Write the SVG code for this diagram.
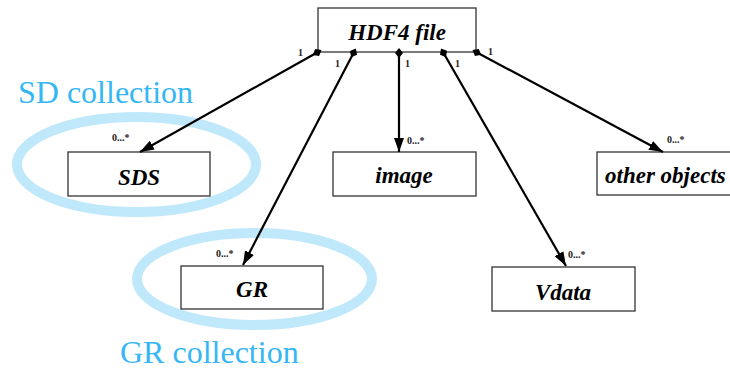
<svg xmlns="http://www.w3.org/2000/svg" width="730" height="370" viewBox="0 0 730 370">
<style>
.box{fill:#fff;stroke:#333;stroke-width:1.3}
.lbl{font-family:"Liberation Serif","Times New Roman",serif;font-weight:bold;font-style:italic;font-size:23px;fill:#000}
.mult{font-family:"Liberation Serif","Times New Roman",serif;font-weight:bold;font-size:10px;fill:#222}
.coll{font-family:"Liberation Serif","Times New Roman",serif;font-size:32px;fill:#35B6F5}
.ring{fill:none;stroke:#C0E8FB;stroke-width:10}
.conn{stroke:#000;stroke-width:2.2;fill:none;marker-start:url(#dia);marker-end:url(#arr)}
</style>
<defs>
<marker id="arr" markerUnits="userSpaceOnUse" markerWidth="15" markerHeight="12" viewBox="0 0 15 12" refX="14" refY="6" orient="auto">
<path d="M0,1 L14,6 L0,11 Z" fill="#000"/>
</marker>
<marker id="dia" markerUnits="userSpaceOnUse" markerWidth="12" markerHeight="10" viewBox="0 0 12 10" refX="4" refY="5" orient="auto">
<path d="M0,5 L5,1 L10,5 L5,9 Z" fill="#000"/>
</marker>
</defs>
<g id="collections">
<ellipse class="ring" cx="136.5" cy="164.5" rx="119.5" ry="47.5"/>
<text class="coll" x="18" y="103">SD collection</text>
<ellipse class="ring" cx="254.5" cy="279" rx="117.5" ry="46"/>
<text class="coll" x="120" y="363">GR collection</text>
</g>
<g id="hdf4file">
<rect class="box" x="318" y="8" width="158" height="44"/>
<text class="lbl" x="397" y="40" text-anchor="middle">HDF4 file</text>
</g>
<g id="sds">
<rect class="box" x="68" y="152" width="142" height="44"/>
<text class="lbl" x="139" y="185" text-anchor="middle">SDS</text>
</g>
<g id="gr">
<rect class="box" x="181" y="266" width="142" height="43"/>
<text class="lbl" x="252" y="297" text-anchor="middle">GR</text>
</g>
<g id="image">
<rect class="box" x="333" y="152" width="143" height="44"/>
<text class="lbl" x="404" y="183" text-anchor="middle">image</text>
</g>
<g id="vdata">
<rect class="box" x="492" y="267" width="143" height="44"/>
<text class="lbl" x="563" y="300" text-anchor="middle">Vdata</text>
</g>
<g id="other">
<rect class="box" x="597" y="152" width="142" height="43"/>
<text class="lbl" x="605" y="183">other objects</text>
</g>
<g id="connectors">
<path class="conn" d="M318,52 L140,152"/>
<path class="conn" d="M354,52 L243,265"/>
<path class="conn" d="M399,52 L399,152"/>
<path class="conn" d="M443,52 L566,266"/>
<path class="conn" d="M476,52 L663,152"/>
<text class="mult" x="298" y="56">1</text>
<text class="mult" x="335" y="67">1</text>
<text class="mult" x="405" y="67">1</text>
<text class="mult" x="455" y="67">1</text>
<text class="mult" x="488" y="55">1</text>
<text class="mult" x="112" y="141">0...*</text>
<text class="mult" x="216" y="257">0...*</text>
<text class="mult" x="407" y="144">0...*</text>
<text class="mult" x="667" y="143">0...*</text>
<text class="mult" x="568" y="258">0...*</text>
</g>
</svg>
